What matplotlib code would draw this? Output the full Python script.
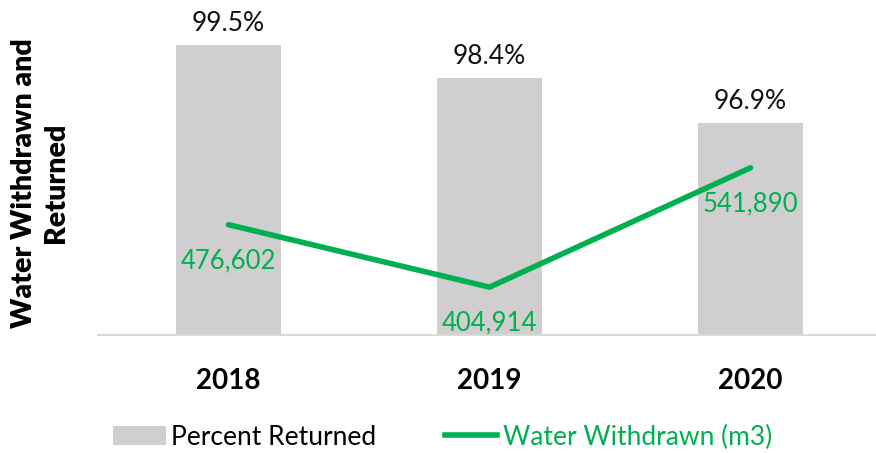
import matplotlib
matplotlib.use("Agg")
import matplotlib.pyplot as plt
from matplotlib.patches import Patch
from matplotlib.lines import Line2D

plt.rcParams['font.family'] = ['Lato', 'DejaVu Sans']

# data
years = ["2018", "2019", "2020"]
percent_returned = [99.5, 98.4, 96.9]
water_withdrawn = [476602, 404914, 541890]

bar_color = "#D0CECE"
line_color = "#00B050"

fig = plt.figure(figsize=(8.76, 4.53), dpi=100)
ax = fig.add_axes([98 / 876, 1 - 335 / 453, 783 / 876, 305 / 453])
x = range(len(years))

# bars - percent returned
ax.bar(x, percent_returned, width=0.4, color=bar_color, zorder=1)
ax.set_ylim(89.8, 100)
ax.set_xlim(-0.5, 2.5)
for xi, v in zip(x, percent_returned):
    ax.text(xi, v + 0.3, f"{v:.1f}%", ha="center", va="bottom", fontsize=19, color="#111111")

ax.set_xticks(list(x))
ax.set_xticklabels(years, fontsize=20, fontweight="bold")
ax.tick_params(axis="x", length=0, pad=24)
ax.set_yticks([])
for s in ["top", "right", "left"]:
    ax.spines[s].set_visible(False)
ax.spines["bottom"].set_color("#D9D9D9")
ax.spines["bottom"].set_linewidth(1.5)

fig.text(40 / 876, 1 - 183 / 453, "Water Withdrawn and\nReturned", rotation=90,
         ha="center", va="center", multialignment="center", fontsize=20.5,
         fontweight="heavy", linespacing=1.3)

# line - water withdrawn, secondary axis
ax2 = ax.twinx()
ax2.plot(list(x), water_withdrawn, color=line_color, linewidth=4, solid_capstyle="round", zorder=3)
ax2.set_ylim(350000, 700000)
ax2.set_yticks([])
for s in ["top", "right", "left", "bottom"]:
    ax2.spines[s].set_visible(False)
for xi, v in zip(x, water_withdrawn):
    ax2.text(xi, v - 27000, f"{v:,}", ha="center", va="top", fontsize=18.5, color=line_color)

# legend
handles = [Patch(facecolor=bar_color, edgecolor="none"),
           Line2D([0], [0], color=line_color, linewidth=4)]
leg = fig.legend(handles, ["Percent Returned", "Water Withdrawn (m3)"], loc="lower center",
                 bbox_to_anchor=(0.505, -0.045), ncol=2, frameon=False, fontsize=19,
                 handlelength=2.0, handletextpad=0.2, columnspacing=2.6)
leg.get_texts()[1].set_color(line_color)

fig.savefig("out.png", dpi=100)
